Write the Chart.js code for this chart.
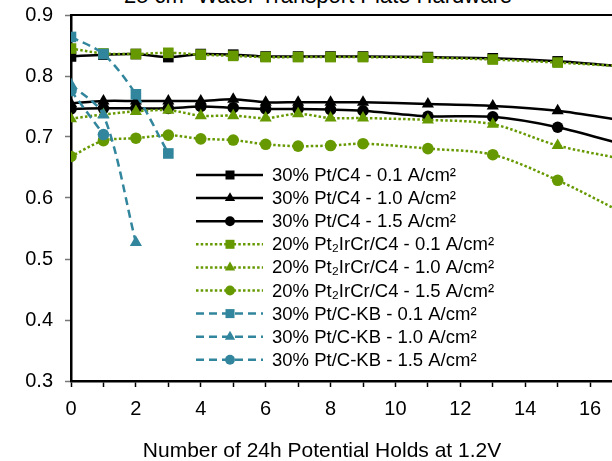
<!DOCTYPE html>
<html>
<head>
<meta charset="utf-8">
<script src="https://cdn.jsdelivr.net/npm/chart.js@4.4.1/dist/chart.umd.min.js"></script>
<style>
  html, body { margin: 0; padding: 0; background: #fff; }
  body { width: 612px; height: 461px; overflow: hidden; position: relative; font-family: "Liberation Sans", Arial, sans-serif; }
  #wrap { position: absolute; left: 0; top: -9px; width: 700px; height: 470px; }
  .ttl { position: absolute; white-space: nowrap; transform: translateX(-50%); color: #000; }
</style>
</head>
<body>
<div class="ttl" style="left:318px; top:-17px; font-size:22px; line-height:26px;">25 cm² Water Transport Plate Hardware</div>
<div id="wrap"><canvas id="c"></canvas></div>
<div class="ttl" style="left:322px; top:438px; font-size:21px; line-height:24px;">Number of 24h Potential Holds at 1.2V</div>
<script>
// x = number of 24h potential holds
const holds = [0, 1, 2, 3, 4, 5, 6, 7, 8, 9, 11, 13, 15, 17]
const xTickLabels = [0, 2, 4, 6, 8, 10, 12, 14, 16, 18]

// 30% Pt/C4
const ptc4_01 = [0.832, 0.835, 0.836, 0.831, 0.836, 0.835, 0.832, 0.832, 0.832, 0.832, 0.831, 0.829, 0.824, 0.816]
const ptc4_10 = [0.755, 0.759, 0.759, 0.759, 0.759, 0.762, 0.757, 0.757, 0.757, 0.757, 0.754, 0.751, 0.743, 0.727]
const ptc4_15 = [0.746, 0.747, 0.747, 0.747, 0.750, 0.748, 0.746, 0.746, 0.745, 0.743, 0.734, 0.733, 0.716, 0.688]
// 20% Pt2IrCr/C4
const ptir_01 = [0.845, 0.837, 0.836, 0.838, 0.835, 0.833, 0.831, 0.831, 0.831, 0.831, 0.830, 0.827, 0.822, 0.816]
const ptir_10 = [0.730, 0.737, 0.742, 0.744, 0.735, 0.735, 0.731, 0.738, 0.731, 0.731, 0.728, 0.721, 0.686, 0.664]
const ptir_15 = [0.668, 0.694, 0.698, 0.703, 0.697, 0.695, 0.688, 0.685, 0.686, 0.689, 0.681, 0.671, 0.629, 0.576]
// 30% Pt/C-KB (stops early)
const kb_01 = [0.864, 0.836, 0.770, 0.673]
const kb_10 = [0.786, 0.736, 0.527]
const kb_15 = [0.776, 0.704]

const labels = [
  '30% Pt/C4 - 0.1 A/cm²', '30% Pt/C4 - 1.0 A/cm²', '30% Pt/C4 - 1.5 A/cm²',
  '20% Pt₂IrCr/C4 - 0.1 A/cm²', '20% Pt₂IrCr/C4 - 1.0 A/cm²', '20% Pt₂IrCr/C4 - 1.5 A/cm²',
  '30% Pt/C-KB - 0.1 A/cm²', '30% Pt/C-KB - 1.0 A/cm²', '30% Pt/C-KB - 1.5 A/cm²'
]

const BLACK = '#000000'
const GREEN = '#669900'
const BLUE = '#31859c'

const toPts = arr => arr.map((y, i) => ({ x: holds[i], y: y }))

function ds(i, arr, color, dash, style, order) {
  const r = style === 'rect' ? 7.5 : (style === 'triangle' ? 7 : 5.8)
  return {
    label: labels[i],
    data: toPts(arr),
    borderColor: color,
    backgroundColor: color,
    borderWidth: 2.5,
    borderDash: dash,
    borderCapStyle: 'butt',
    tension: 0.3,
    pointStyle: style,
    pointRadius: r,
    pointBorderWidth: 0,
    pointBackgroundColor: color,
    order: order
  }
}

const dotted = [2.5, 2.2]
const dashed = [8, 5]

const datasets = [
  ds(0, ptc4_01, BLACK, [], 'rect', 3),
  ds(1, ptc4_10, BLACK, [], 'triangle', 3),
  ds(2, ptc4_15, BLACK, [], 'circle', 3),
  ds(3, ptir_01, GREEN, dotted, 'rect', 2),
  ds(4, ptir_10, GREEN, dotted, 'triangle', 2),
  ds(5, ptir_15, GREEN, dotted, 'circle', 2),
  ds(6, kb_01, BLUE, dashed, 'rect', 1),
  ds(7, kb_10, BLUE, dashed, 'triangle', 1),
  ds(8, kb_15, BLUE, dashed, 'circle', 1)
]

function marker(ctx, style, r, x, y) {
  ctx.beginPath()
  if (style === 'rect') {
    const s = r * Math.SQRT1_2
    ctx.rect(x - s, y - s, 2 * s, 2 * s)
  } else if (style === 'triangle') {
    ctx.moveTo(x, y - r)
    ctx.lineTo(x + r * Math.sin(Math.PI * 2 / 3), y + r / 2)
    ctx.lineTo(x - r * Math.sin(Math.PI * 2 / 3), y + r / 2)
    ctx.closePath()
  } else {
    ctx.arc(x, y, r, 0, Math.PI * 2)
  }
  ctx.fill()
}

// legend sits inside the plot, drawn by hand (canvas is shifted up 9px)
const legendBox = {
  id: 'legendBox',
  afterDraw(chart) {
    const ctx = chart.ctx
    ctx.save()
    datasets.forEach((d, i) => {
      const y = 184 + i * 23.1
      ctx.strokeStyle = d.borderColor
      ctx.lineWidth = 2.5
      ctx.setLineDash(d.borderDash)
      ctx.beginPath()
      ctx.moveTo(196, y)
      ctx.lineTo(263, y)
      ctx.stroke()
      ctx.setLineDash([])
      ctx.fillStyle = d.borderColor
      marker(ctx, d.pointStyle, d.pointRadius * 0.85, 230, y)
      ctx.fillStyle = '#000'
      ctx.font = '18.5px "Liberation Sans", Arial, sans-serif'
      ctx.textBaseline = 'middle'
      ctx.fillText(d.label, 272, y + 1)
    })
    // top edge of the plot frame
    const a = chart.chartArea
    ctx.strokeStyle = '#000'
    ctx.lineWidth = 2
    ctx.beginPath()
    ctx.moveTo(a.left, a.top)
    ctx.lineTo(a.right, a.top)
    ctx.stroke()
    ctx.restore()
  }
}

new Chart(document.getElementById('c'), {
  type: 'line',
  data: { datasets: datasets },
  options: {
    responsive: true,
    maintainAspectRatio: false,
    animation: false,
    layout: { padding: { left: 0, top: 4, right: 45, bottom: 0 } },
    plugins: {
      legend: { display: false },
      tooltip: { enabled: false }
    },
    scales: {
      x: {
        type: 'linear',
        min: 0,
        max: 18,
        afterFit: s => { s.height = 80 },
        ticks: {
          stepSize: 1,
          autoSkip: false,
          maxRotation: 0,
          color: '#000',
          padding: 10,
          font: { family: '"Liberation Sans", Arial, sans-serif', size: 20 },
          callback: v => xTickLabels.includes(v) ? String(v) : ''
        },
        grid: { drawOnChartArea: false, tickLength: 6, tickColor: '#000', tickWidth: 1.5 },
        border: { color: '#000', width: 2.5 }
      },
      y: {
        min: 0.3,
        max: 0.9,
        afterFit: s => { s.width = 71 },
        ticks: {
          stepSize: 0.1,
          color: '#000',
          padding: 12,
          font: { family: '"Liberation Sans", Arial, sans-serif', size: 20 },
          callback: v => v.toFixed(1)
        },
        grid: { drawOnChartArea: false, tickLength: 6, tickColor: '#777', tickWidth: 1.5 },
        border: { color: '#000', width: 2.5 }
      }
    }
  },
  plugins: [legendBox]
})
</script>
</body>
</html>
